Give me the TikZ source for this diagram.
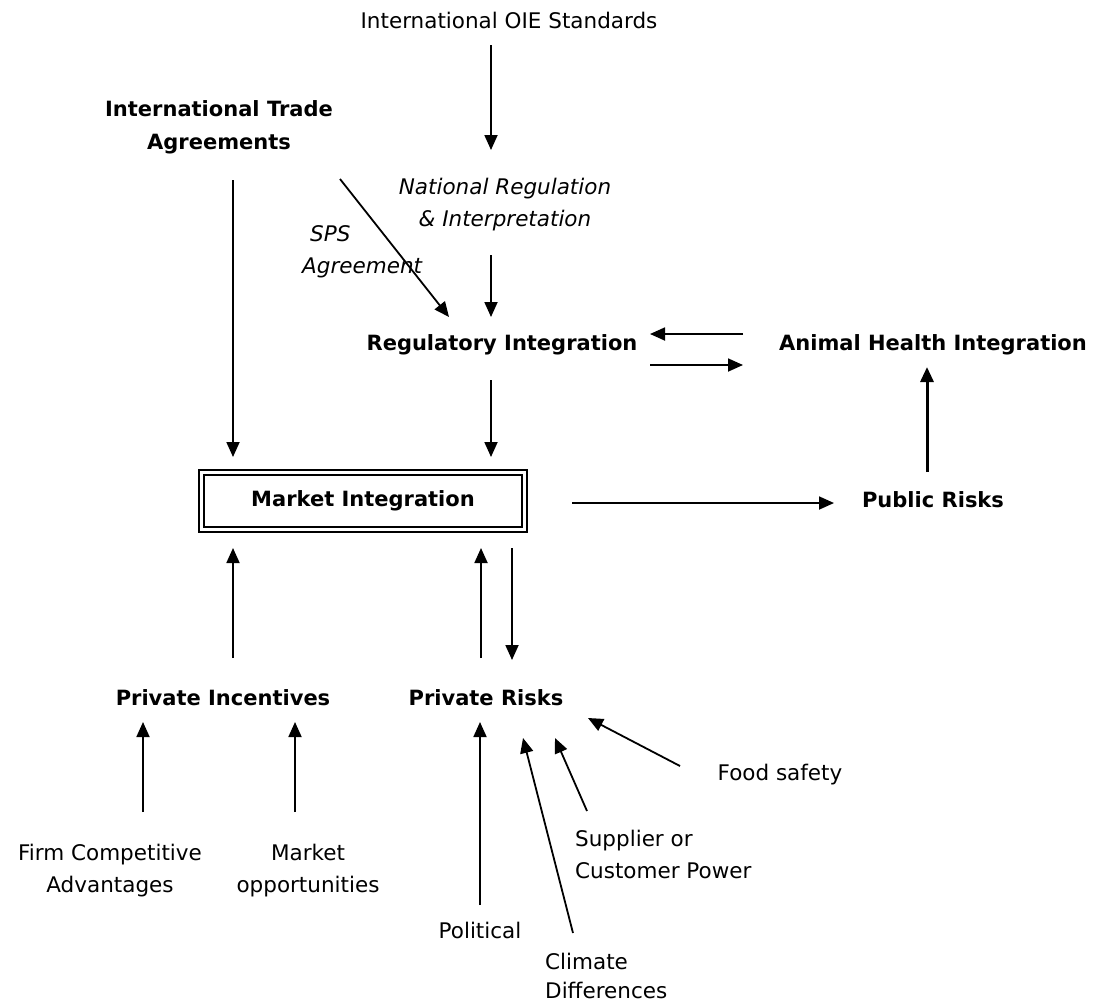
\documentclass[tikz,border=0pt]{standalone}
\usepackage{fontspec}
\setmainfont{DejaVu Sans}
\usetikzlibrary{arrows.meta}
\begin{document}
\begin{tikzpicture}[x=1pt,y=-1pt,
  reg/.style={font=\fontsize{21.5}{32}\selectfont, inner sep=0pt, align=center},
  ital/.style={font=\fontsize{21.5}{32}\selectfont\itshape, inner sep=0pt, align=center},
  bld/.style={font=\fontsize{21}{33}\selectfont\bfseries, inner sep=0pt, align=center},
  arr/.style={line width=1.8pt, -{Triangle[length=15pt,width=13pt]}},
  thickarr/.style={line width=3pt, -{Triangle[length=15pt,width=13pt]}}]
\useasboundingbox[fill=white] (0,0) rectangle (1110,1005);
% nodes
\node[reg] (oie) at (509,20) {International OIE Standards};
\node[bld] (ita) at (219,127) {International Trade\\Agreements};
\node[ital] (nat) at (505,205) {National Regulation\\\& Interpretation};
\node[ital, align=left, anchor=west] (sps) at (302,252) {\hspace{8pt}SPS\\Agreement};
\node[bld] (rg) at (502,345) {Regulatory Integration};
\node[bld] (ahi) at (933,345) {Animal Health Integration};
\node[bld, draw, double, double distance=3.4pt, line width=2.2pt,
      minimum width=323pt, minimum height=57pt] (mkt) at (363,501) {Market Integration};
\node[bld] (pub) at (933,500) {Public Risks};
\node[bld] (pi) at (223,698) {Private Incentives};
\node[bld] (pr) at (486,698) {Private Risks};
\node[reg] (fca) at (110,871) {Firm Competitive\\Advantages};
\node[reg] (mo) at (308,871) {Market\\opportunities};
\node[reg] (pol) at (480,930) {Political};
\node[reg, align=left, anchor=west, font=\fontsize{21.5}{29}\selectfont] (cli) at (545,976) {Climate\\Differences};
\node[reg, align=left, anchor=west] (sup) at (575,854) {Supplier or\\Customer Power};
\node[reg] (food) at (780,775) {Food safety};
% connectors
\draw[arr] ([shift={(-18,25)}]oie.center) -- ([shift={(-14,-55)}]nat.center);
\draw[arr] ([shift={(-14,50)}]nat.center) -- ([shift={(-11,-28)}]rg.center);
\draw[arr] ([shift={(14,53)}]ita.center) -- ([shift={(-130,-44)}]mkt.center);
\draw[arr] ([shift={(121,52)}]ita.center) -- ([shift={(-53,-28)}]rg.center);
\draw[arr] ([shift={(-11,35)}]rg.center) -- ([shift={(128,-44)}]mkt.center);
\draw[arr] ([shift={(-190,-11)}]ahi.center) -- ([shift={(148,-11)}]rg.center);
\draw[arr] ([shift={(148,20)}]rg.center) -- ([shift={(-190,20)}]ahi.center);
\draw[thickarr] ([shift={(-6,-28)}]pub.center) -- ([shift={(-6,22)}]ahi.center);
\draw[arr] ([shift={(209,2)}]mkt.center) -- ([shift={(-99,3)}]pub.center);
\draw[arr] ([shift={(10,-40)}]pi.center) -- ([shift={(-130,47)}]mkt.center);
\draw[arr] ([shift={(-5,-40)}]pr.center) -- ([shift={(118,47)}]mkt.center);
\draw[arr] ([shift={(149,47)}]mkt.center) -- ([shift={(26,-38)}]pr.center);
\draw[arr] ([shift={(33,-59)}]fca.center) -- ([shift={(-80,24)}]pi.center);
\draw[arr] ([shift={(-13,-59)}]mo.center) -- ([shift={(72,24)}]pi.center);
\draw[arr] ([shift={(0,-25)}]pol.center) -- ([shift={(-6,24)}]pr.center);
\draw[arr] ([shift={(28,-43)}]cli.west) -- ([shift={(37,40)}]pr.center);
\draw[arr] ([shift={(12,-43)}]sup.west) -- ([shift={(69,40)}]pr.center);
\draw[arr] ([shift={(-100,-9)}]food.center) -- ([shift={(102,20)}]pr.center);
\end{tikzpicture}
\end{document}
